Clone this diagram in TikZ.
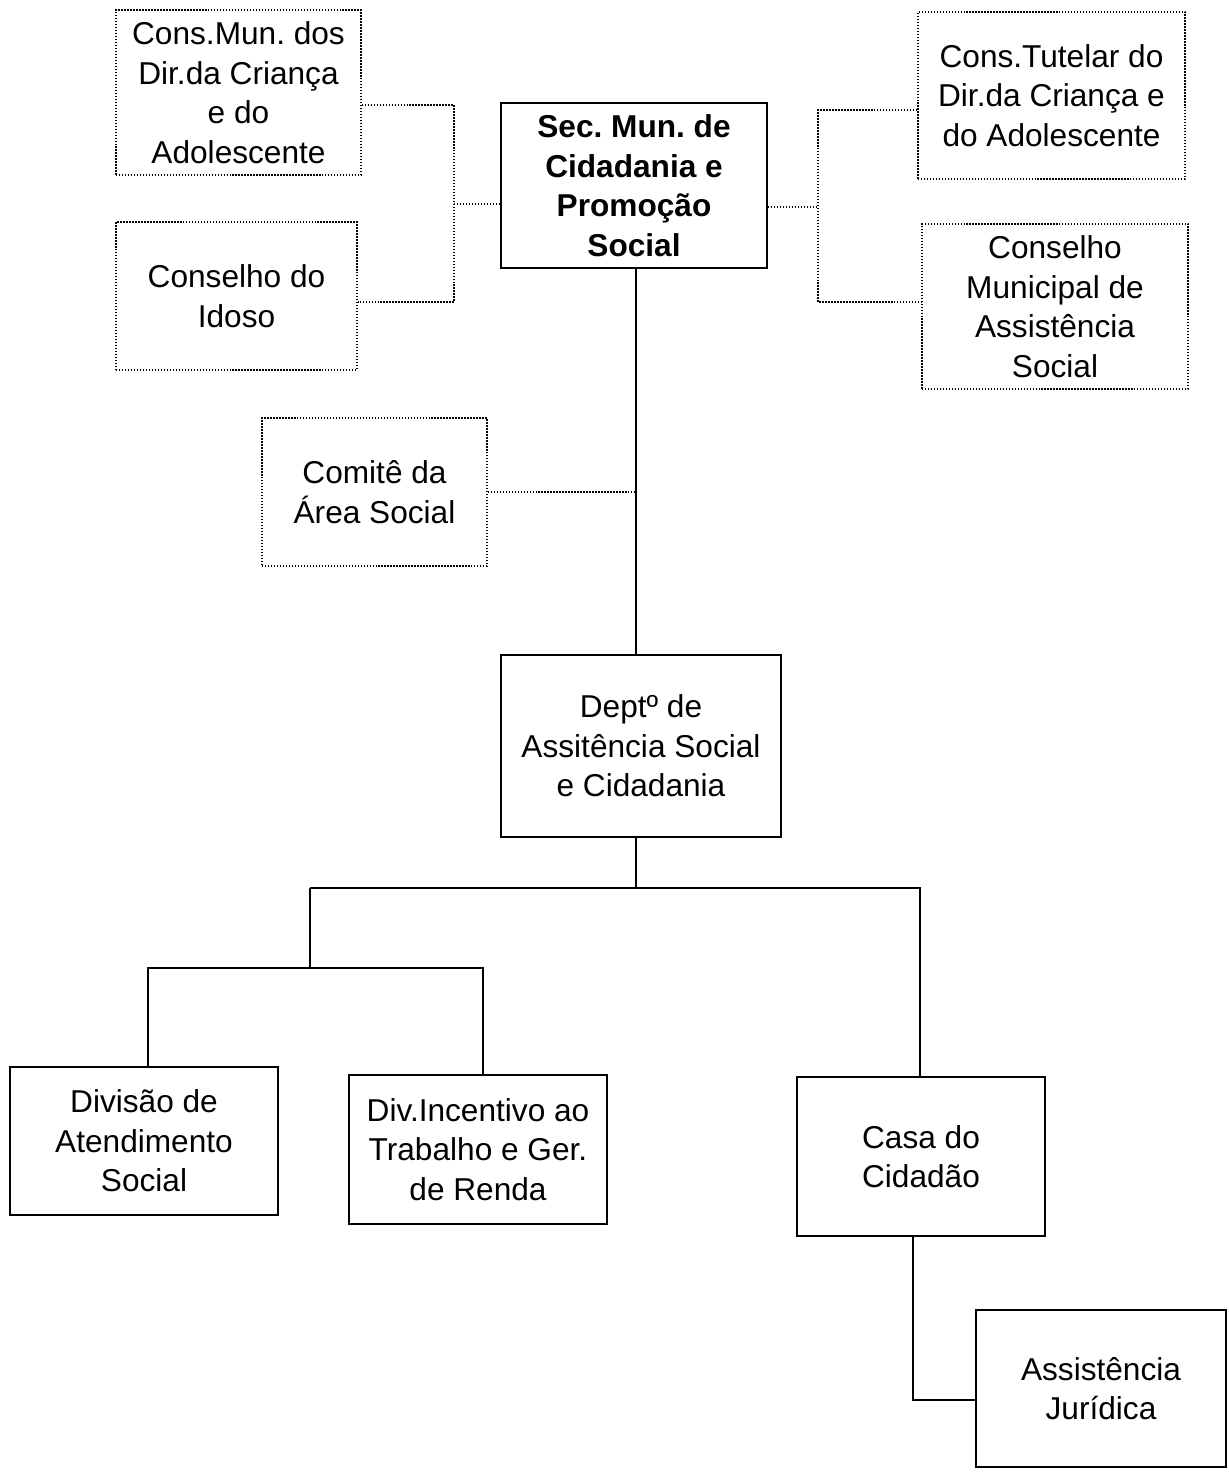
\documentclass[tikz,border=0pt]{standalone}
\usepackage{fontspec}
\setmainfont{Liberation Sans}
\usepackage{tikz}
\usetikzlibrary{positioning}
\frenchspacing
\tikzset{
  orgbox/.style={rectangle, draw, line width=1.1pt, align=center, inner sep=0pt,
    font=\fontsize{18}{22.5}\selectfont},
  dotbox/.style={orgbox, line width=0.8pt, dash pattern=on 0.8pt off 0.9pt},
  dotline/.style={line width=0.8pt, dash pattern=on 0.8pt off 0.9pt},
  orgline/.style={line width=1.1pt}
}

\begin{document}
\begin{tikzpicture}[x=0.02cm, y=-0.02cm]
\useasboundingbox (0,0) rectangle (1229,1479);

% conselhos
\node[dotbox, minimum width=245*0.02cm, minimum height=165*0.02cm] (cmdca) at (238.5,92.5) {Cons.Mun. dos\\Dir.da Criança\\e do\\Adolescente};
\node[dotbox, minimum width=241*0.02cm, minimum height=148*0.02cm] (idoso) at (236.5,296) {Conselho do\\Idoso};
\node[dotbox, minimum width=267*0.02cm, minimum height=167*0.02cm] (tutelar) at (1051.5,95.5) {Cons.Tutelar do\\Dir.da Criança e\\do Adolescente};
\node[dotbox, minimum width=266*0.02cm, minimum height=165*0.02cm] (cmas) at (1055,306.5) {Conselho\\Municipal de\\Assistência\\Social};
\node[dotbox, minimum width=225*0.02cm, minimum height=148*0.02cm] (comite) at (374.5,492) {Comitê da\\Área Social};

% secretaria e departamento
\node[orgbox, minimum width=266*0.02cm, minimum height=165*0.02cm] (sec) at (634,185.5) {\bfseries Sec. Mun. de\\\bfseries Cidadania e\\\bfseries Promoção\\\bfseries Social};
\node[orgbox, minimum width=280*0.02cm, minimum height=182*0.02cm] (dept) at (641,746) {Deptº de\\Assitência Social\\e Cidadania};

% divisoes
\node[orgbox, minimum width=268*0.02cm, minimum height=148*0.02cm] (divatend) at (144,1141) {Divisão de\\Atendimento\\Social};
\node[orgbox, minimum width=258*0.02cm, minimum height=149*0.02cm] (divinc) at (478,1149.5) {Div.Incentivo ao\\Trabalho e Ger.\\de Renda};
\node[orgbox, minimum width=248*0.02cm, minimum height=159*0.02cm] (casa) at (921,1156.5) {Casa do\\Cidadão};
\node[orgbox, minimum width=250*0.02cm, minimum height=157*0.02cm] (jur) at (1101,1388.5) {Assistência\\Jurídica};

% ligacoes pontilhadas
\coordinate (lt) at (454,105);
\coordinate (lm) at (454,204);
\coordinate (lb) at (454,302);
\draw[dotline] (cmdca.east |- lt) -- (lt) -- (lb) -- (idoso.east |- lb);
\draw[dotline] (lm) -- (sec.west |- lm);

\coordinate (rt) at (818,110);
\coordinate (rm) at (818,207);
\coordinate (rb) at (818,302);
\draw[dotline] (tutelar.west |- rt) -- (rt) -- (rb) -- (cmas.west |- rb);
\draw[dotline] (sec.east |- rm) -- (rm);

\coordinate (vx) at (636,495);
\draw[dotline] (comite.east) -- (comite.east -| vx);

% ligacoes
\draw[orgline] (vx |- sec.south) -- (vx |- dept.north);
\coordinate (dj) at (636,888);
\coordinate (hl) at (310,888);
\coordinate (hr) at (920,888);
\draw[orgline] (dj |- dept.south) -- (dj);
\draw[orgline] (hl) -- (hr) -- (hr |- casa.north);

\coordinate (hm) at (310,968);
\coordinate (hll) at (148,968);
\coordinate (hlr) at (483,968);
\draw[orgline] (hl) -- (hm);
\draw[orgline] (hll |- divatend.north) -- (hll) -- (hlr) -- (hlr |- divinc.north);

\coordinate (cj) at (913,1400);
\draw[orgline] (cj |- casa.south) -- (cj) -- (jur.west |- cj);

\end{tikzpicture}
\end{document}
